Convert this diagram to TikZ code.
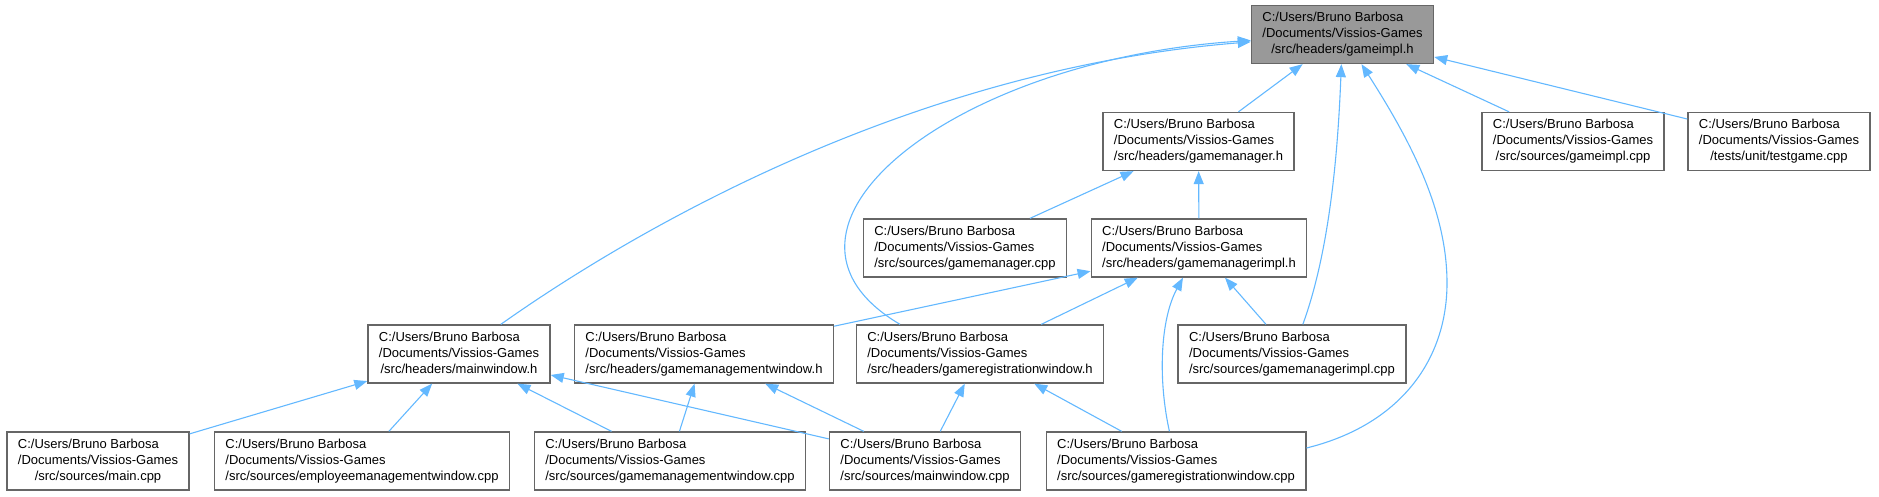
\documentclass[tikz,border=0pt]{standalone}
\usepackage{fontspec}
\setmainfont{Liberation Sans}
\usetikzlibrary{arrows.meta}

\definecolor{edgeblue}{HTML}{63B8FF}
\definecolor{boxgray}{HTML}{666666}
\definecolor{curfill}{HTML}{999999}

% three-line file label: first two lines left, last line centred
\newcommand{\vpath}[1]{\begin{tabular}{@{}l@{}}C:/Users/Bruno Barbosa\\/Documents/Vissios-Games\\\multicolumn{1}{@{}c@{}}{#1}\end{tabular}}

\begin{document}
\begin{tikzpicture}[
    x=1pt, y=-1pt, % pixel-like coordinates, y going down
    every node/.style={font=\fontsize{13}{16}\selectfont},
    file/.style={draw=boxgray, fill=white, line width=1.3pt, inner xsep=11pt, inner ysep=0pt, minimum height=58pt},
    current/.style={file, fill=curfill},
    dep/.style={draw=edgeblue, line width=1.1pt, -{Triangle[length=13pt,width=10pt]}}
]
    \useasboundingbox (0,0) rectangle (1879,496);

    % Place the nodes
    \node[current] (gimpl) at (1342.5,34.5) {\vpath{/src/headers/gameimpl.h}};

    \node[file] (gmgrh) at (1198.5,141.5) {\vpath{/src/headers/gamemanager.h}};
    \node[file] (gimplcpp) at (1573,141.5) {\vpath{/src/sources/gameimpl.cpp}};
    \node[file] (testcpp) at (1779,141.5) {\vpath{/tests/unit/testgame.cpp}};

    \node[file] (gmgrcpp) at (965,248) {\vpath{/src/sources/gamemanager.cpp}};
    \node[file] (gmgrih) at (1199,248) {\vpath{/src/headers/gamemanagerimpl.h}};

    \node[file] (mwh) at (459,354) {\vpath{/src/headers/mainwindow.h}};
    \node[file] (gmwh) at (704,354) {\vpath{/src/headers/gamemanagementwindow.h}};
    \node[file] (grwh) at (980,354) {\vpath{/src/headers/gameregistrationwindow.h}};
    \node[file] (gmgricpp) at (1292,354) {\vpath{/src/sources/gamemanagerimpl.cpp}};

    \node[file] (maincpp) at (98,461) {\vpath{/src/sources/main.cpp}};
    \node[file] (emwcpp) at (362,461) {\vpath{/src/sources/employeemanagementwindow.cpp}};
    \node[file] (gmwcpp) at (670,461) {\vpath{/src/sources/gamemanagementwindow.cpp}};
    \node[file] (mwcpp) at (925,461) {\vpath{/src/sources/mainwindow.cpp}};
    \node[file] (grwcpp) at (1176,461) {\vpath{/src/sources/gameregistrationwindow.cpp}};

    % Draw the edges (child -> included header)
    \draw[dep] (gmgrh) -- (gimpl);
    \draw[dep] (gimplcpp) -- (gimpl);
    \draw[dep] (testcpp) -- (gimpl);
    \draw[dep] (mwh) .. controls (620,240) and (900,70) .. (gimpl);
    \draw[dep] ([xshift=-80pt]grwh.north) .. controls (740,230) and (950,60) .. (gimpl);
    \draw[dep] (gmgricpp) .. controls (1330,250) and (1338,150) .. (gimpl);
    \draw[dep] ([yshift=13pt]grwcpp.east) .. controls (1400,425) and (1447,360) .. (1447,283)
        .. controls (1447,210) and (1410,140) .. (gimpl);

    \draw[dep] (gmgrcpp) -- (gmgrh);
    \draw[dep] (gmgrih) -- (gmgrh);

    \draw[dep] (gmwh) -- (gmgrih);
    \draw[dep] (grwh) -- (gmgrih);
    \draw[dep] (gmgricpp) -- (gmgrih);
    \draw[dep] (grwcpp) .. controls (1158,380) and (1160,320) .. (gmgrih);

    \draw[dep] (maincpp) -- (mwh);
    \draw[dep] (emwcpp) -- (mwh);
    \draw[dep] (gmwcpp) -- (mwh);
    \draw[dep] (mwcpp) -- (mwh);

    \draw[dep] (gmwcpp) -- (gmwh);
    \draw[dep] (mwcpp) -- (gmwh);

    \draw[dep] (mwcpp) -- (grwh);
    \draw[dep] (grwcpp) -- (grwh);
\end{tikzpicture}
\end{document}
